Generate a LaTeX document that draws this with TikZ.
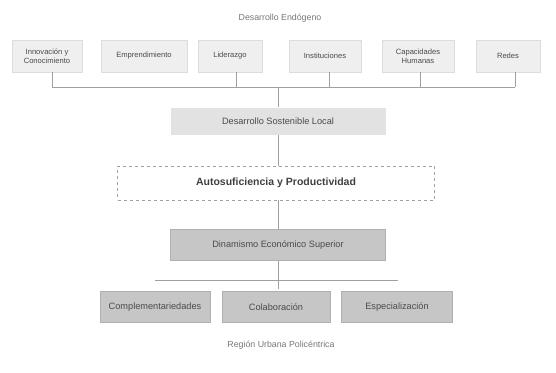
\documentclass[tikz,border=0pt]{standalone}
\usepackage{fontspec}
\setmainfont{Liberation Sans}
\definecolor{txt}{HTML}{4A4A4A}
\definecolor{lin}{HTML}{A0A0A0}
\definecolor{topfill}{HTML}{EFEFEF}
\definecolor{midfill}{HTML}{E2E2E2}
\definecolor{darkfill}{HTML}{C6C6C6}
\definecolor{darkline}{HTML}{B0B0B0}
\begin{document}
\begin{tikzpicture}[x=1pt,y=-1pt,
  topbox/.style={fill=topfill,draw=topfill!92!black,line width=0.4pt,minimum height=32pt,text=txt,font=\fontsize{7.6}{8.6}\selectfont,align=center,inner sep=2pt},
  midbox/.style={fill=midfill,draw=none,minimum height=27pt,minimum width=215pt,text=txt,font=\fontsize{9.2}{10}\selectfont},
  dashbox/.style={draw=lin,dashed,line width=0.6pt,minimum height=34pt,minimum width=317pt,text=black!75,font=\bfseries\fontsize{10.5}{12}\selectfont},
  darkbox/.style={fill=darkfill,draw=darkline,line width=0.6pt,minimum height=31pt,text=txt,font=\fontsize{9.2}{10}\selectfont},
  lbl/.style={text=txt!75,font=\fontsize{8.8}{10}\selectfont},
  conn/.style={draw=lin,line width=0.7pt}]
\useasboundingbox (0,0) rectangle (556,372);
\node[lbl] (title) at (280,18) {Desarrollo Endógeno};
\node[topbox,minimum width=70pt] (t1) at (47,56) {Innovación y\\Conocimiento};
\node[topbox,minimum width=86pt] (t2) at (144,56) {Emprendimiento};
\node[topbox,minimum width=64pt] (t3) at (230,56) {Liderazgo};
\node[topbox,minimum width=72pt] (t4) at (325,56) {Instituciones};
\node[topbox,minimum width=72pt] (t5) at (418,56) {Capacidades\\Humanas};
\node[topbox,minimum width=64pt] (t6) at (508,56) {Redes};
\coordinate (hl) at (52,87);
\coordinate (hr) at (515,87);
\draw[conn] (hl) -- (hr);
\foreach \n/\xx in {t1/52,t3/236,t4/329,t5/420,t6/515}{
  \draw[conn] (\n.south -| \xx,0) -- (\xx,87);
}
\node[midbox] (dsl) at (278,121) {Desarrollo Sostenible Local};
\draw[conn] (278,87) -- (dsl.north);
\node[dashbox] (asp) at (276,183) {Autosuficiencia y Productividad};
\draw[conn] (dsl.south) -- (asp.north -| dsl.south);
\node[darkbox,minimum width=215pt] (des) at (278,245) {Dinamismo Económico Superior};
\draw[conn] (asp.south -| des.north) -- (des.north);
\coordinate (bl) at (155,280);
\coordinate (br) at (398,280);
\draw[conn] (bl) -- (br);
\coordinate (bc) at (278,289);
\draw[conn] (des.south) -- (bc);
\node[darkbox,minimum width=110pt] (b1) at (155,307) {Complementariedades};
\node[darkbox,minimum width=108pt] (b2) at (276,307) {Colaboración};
\node[darkbox,minimum width=111pt] (b3) at (397,307) {Especialización};
\node[lbl] (reg) at (281,345) {Región Urbana Policéntrica};
\end{tikzpicture}
\end{document}
